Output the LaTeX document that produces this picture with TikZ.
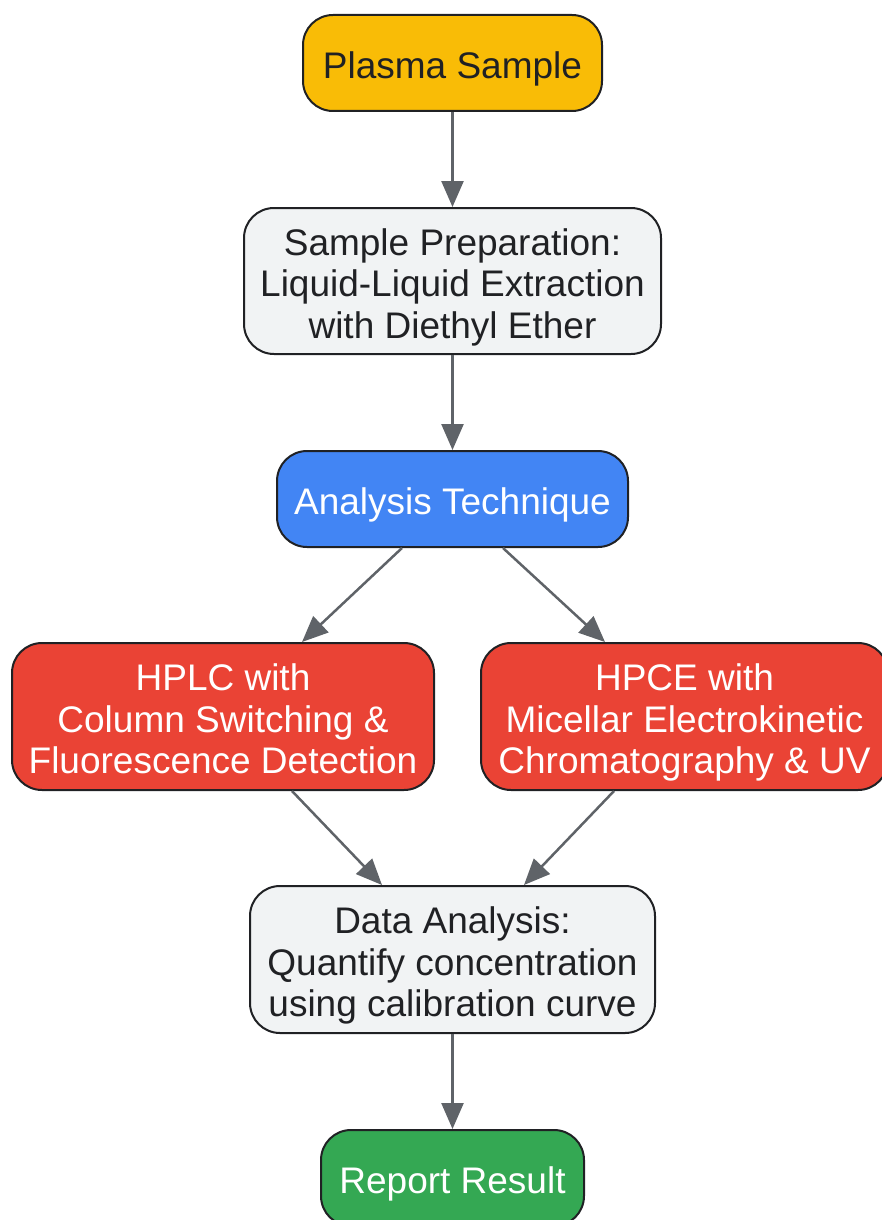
\documentclass[tikz,border=0pt]{standalone}
\usepackage{fontspec}
\setmainfont{Liberation Sans}
\usetikzlibrary{calc,arrows.meta}
\definecolor{txtdark}{HTML}{202124}
\definecolor{bordc}{HTML}{202124}
\definecolor{arrc}{HTML}{5F6368}
\definecolor{yel}{HTML}{F9BC06}
\definecolor{gry}{HTML}{F1F3F4}
\definecolor{blu}{HTML}{4285F4}
\definecolor{rd}{HTML}{EA4335}
\definecolor{grn}{HTML}{34A853}
\tikzset{
  box/.style={draw=bordc, line width=2pt, rounded corners=30pt, align=center, inner sep=0pt,
    font=\fontsize{37}{41.5}\selectfont, text depth=5.1pt},
  oneline/.style={text height=36.2pt},
  threeline/.style={text height=119.2pt},
  darkbox/.style={box, text=txtdark},
  lightbox/.style={box, text=white},
  conn/.style={draw=arrc, line width=2.5pt, -{Triangle[length=26pt,width=22pt]}}
}
\begin{document}
\begin{tikzpicture}[x=1pt,y=-1pt]
\useasboundingbox (0,0) rectangle (882,1220);
\node[darkbox, oneline, fill=yel, minimum width=299pt, minimum height=96pt] (plasma) at (452.5,63) {Plasma Sample};
\node[darkbox, threeline, fill=gry, minimum width=417pt, minimum height=146pt] (prep) at (452.5,281) {Sample Preparation:\\Liquid-Liquid Extraction\\with Diethyl Ether};
\node[lightbox, oneline, fill=blu, minimum width=351pt, minimum height=96pt] (tech) at (452.5,499) {Analysis Technique};
\node[lightbox, threeline, fill=rd, minimum width=422pt, minimum height=147pt] (hplc) at (223,716.5) {HPLC with\\Column Switching \&\\Fluorescence Detection};
\node[lightbox, threeline, fill=rd, minimum width=407pt, minimum height=147pt] (hpce) at (684.5,716.5) {HPCE with\\Micellar Electrokinetic\\Chromatography \& UV};
\node[darkbox, threeline, fill=gry, minimum width=405pt, minimum height=147pt] (data) at (452.5,959.5) {Data Analysis:\\Quantify concentration\\using calibration curve};
\node[lightbox, oneline, fill=grn, minimum width=263pt, minimum height=96pt] (report) at (452.5,1178) {Report Result};
\draw[conn] (plasma.south) -- (prep.north);
\draw[conn] (prep.south) -- (tech.north);
\draw[conn] ($(tech.south)+(-50.5,0)$) -- ($(hplc.north)+(79,0)$);
\draw[conn] ($(tech.south)+(50.5,0)$) -- ($(hpce.north)+(-79.5,0)$);
\draw[conn] ($(hplc.south)+(69,0)$) -- ($(data.north)+(-70.5,0)$);
\draw[conn] ($(hpce.south)+(-70.5,0)$) -- ($(data.north)+(71.5,0)$);
\draw[conn] (data.south) -- (report.north);
\end{tikzpicture}
\end{document}
